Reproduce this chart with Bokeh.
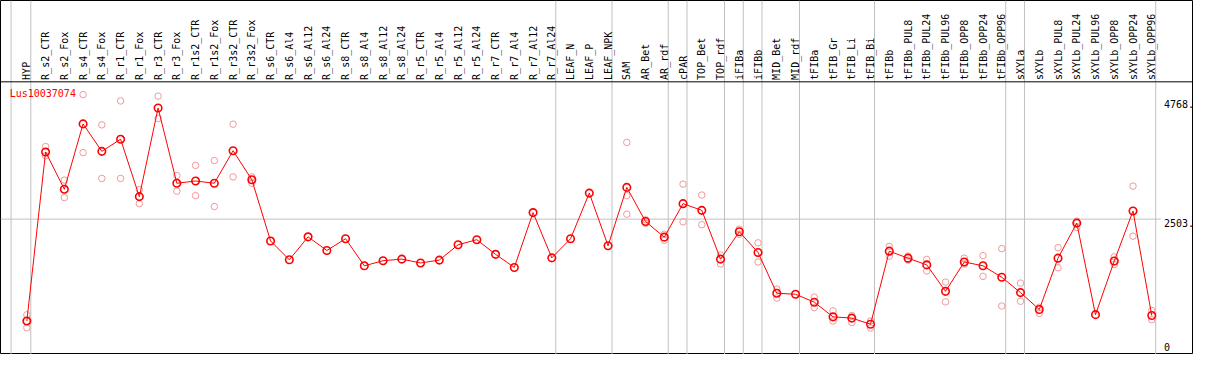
import numpy as np
from bokeh.plotting import figure
from bokeh.models import Range1d, Span, Label
from bokeh.core.properties import value
from bokeh.embed import file_html
from bokeh.resources import INLINE

# ---------------- data ----------------
gene = "Lus10037074"

categories = [
    "HYP", "R_s2_CTR", "R_s2_Fox", "R_s4_CTR", "R_s4_Fox", "R_r1_CTR", "R_r1_Fox",
    "R_r3_CTR", "R_r3_Fox", "R_r1s2_CTR", "R_r1s2_Fox", "R_r3s2_CTR", "R_r3s2_Fox",
    "R_s6_CTR", "R_s6_Al4", "R_s6_Al12", "R_s6_Al24", "R_s8_CTR", "R_s8_Al4",
    "R_s8_Al12", "R_s8_Al24", "R_r5_CTR", "R_r5_Al4", "R_r5_Al12", "R_r5_Al24",
    "R_r7_CTR", "R_r7_Al4", "R_r7_Al12", "R_r7_Al24", "LEAF_N", "LEAF_P", "LEAF_NPK",
    "SAM", "AR_Bet", "AR_rdf", "cPAR", "TOP_Bet", "TOP_rdf", "iFIBa", "iFIBb",
    "MID_Bet", "MID_rdf", "tFIBa", "tFIB_Gr", "tFIB_Li", "tFIB_Bi", "tFIBb",
    "tFIBb_PUL8", "tFIBb_PUL24", "tFIBb_PUL96", "tFIBb_OPP8", "tFIBb_OPP24",
    "tFIBb_OPP96", "sXYLa", "sXYLb", "sXYLb_PUL8", "sXYLb_PUL24", "sXYLb_PUL96",
    "sXYLb_OPP8", "sXYLb_OPP24", "sXYLb_OPP96",
]

means = [
    506, 3819, 3088, 4369, 3831, 4069, 2944, 4681, 3206, 3250, 3206, 3844, 3275,
    2075, 1706, 2156, 1888, 2119, 1588, 1688, 1719, 1644, 1700, 2000, 2100,
    1813, 1556, 2631, 1744, 2119, 3013, 1981, 3125, 2456, 2150, 2806, 2675,
    1719, 2256, 1850, 1050, 1031, 875, 588, 563, 444, 1875, 1738, 1606, 1088,
    1663, 1588, 1363, 1063, 731, 1738, 2425, 631, 1681, 2663, 613,
]

replicates = [
    [628, 506, 375], [3925, 3744], [3268, 2925], [4944, 3806], [4350, 3300],
    [4819, 3300], [3081, 2806], [4913, 4475], [3356, 3050], [3556, 2963],
    [3650, 2750], [4363, 3331], [3331, 3206],
    [], [], [], [], [], [], [], [], [], [], [], [], [], [], [], [], [], [], [],
    [4006, 2963, 2600], [2490, 2420], [2206, 2088], [3188, 2450], [2975, 2394],
    [1800, 1625], [2306, 2206], [2038, 1663], [1131, 956], [], [975, 769],
    [706, 506], [613, 475], [506, 369], [1969, 1775], [1780, 1700], [1713, 1488],
    [1269, 881], [1738, 1620], [1788, 1381], [1925, 800], [1250, 894], [775, 656],
    [1944, 1550], [2463, 2338], [], [1763, 1613], [3150, 2169], [713, 531],
]

# last category index of each group (a separator follows it)
group_ends = [0, 28, 31, 34, 35, 37, 38, 39, 41, 45, 52, 53, 60]

tick_values = [4768, 2503, 0]
tick_labels = ["4768.", "2503.", "0"]

# ---------------- layout helpers (reference pixel geometry) ----------------
REF_W, REF_H = 1209, 370
CAT_X0, CAT_STEP = 26.7, 19.0
Y0_PX, PX_PER_UNIT = 362.0, 254.3 / 4768.0


def ix(px):
    return (px - CAT_X0) / CAT_STEP


def vy(py):
    return (Y0_PX - py) / PX_PER_UNIT


W, H = 1193, 354
FONT = "DejaVu Sans Mono"

p = figure(width=W, height=H, output_backend="svg", toolbar_location=None,
           x_range=Range1d(ix(0), ix(REF_W)), y_range=Range1d(vy(REF_H), vy(0)),
           x_axis_location=None, y_axis_location=None, min_border=0,
           outline_line_color="black", outline_line_width=1,
           background_fill_color="white", border_fill_color="white")
p.xgrid.visible = False
p.ygrid.visible = False

xs = np.arange(len(categories))

# group separators
sep_x = [ix(10.7)] + [g + 4.0 / CAT_STEP for g in group_ends]
for sx in sep_x:
    p.add_layout(Span(location=sx, dimension="height", line_color="#c0c0c0",
                      line_width=1, level="underlay"))

# header rule
p.add_layout(Span(location=vy(85), dimension="width", line_color="black", line_width=1))

# mid grid line
p.segment(x0=[ix(0)], x1=[ix(1176)], y0=[tick_values[1]], y1=[tick_values[1]],
          line_color="#c0c0c0", line_width=1, level="underlay")

# category labels
p.text(x=xs, y=vy(83), text=categories, angle=np.pi / 2, text_align="left",
       text_baseline="middle", text_font=value(FONT), text_font_size="10px",
       text_color="black")

# replicate points
rx = [i for i, r in enumerate(replicates) for _ in r]
ry = [v for r in replicates for v in r]
p.scatter(rx, ry, marker="circle", size=6.5, fill_color=None,
          line_color="#f09a9a", line_width=1)

# mean line and points
p.line(xs, means, line_color="red", line_width=1)
p.scatter(xs, means, marker="circle", size=7.5, fill_color=None,
          line_color="red", line_width=1.6)

# gene label
p.add_layout(Label(x=ix(9.3), y=vy(97), text=gene, text_color="red",
                   text_font=FONT, text_font_size="10px",
                   text_align="left", text_baseline="middle"))

# y tick labels on the right
baselines = ["middle", "top", "middle"]
for v, t, b in zip(tick_values, tick_labels, baselines):
    p.add_layout(Label(x=ix(1179), y=v, text=t, text_color="black",
                       text_font=FONT, text_font_size="10px",
                       text_align="left", text_baseline=b))

open("out.html", "w").write(file_html(p, INLINE))
